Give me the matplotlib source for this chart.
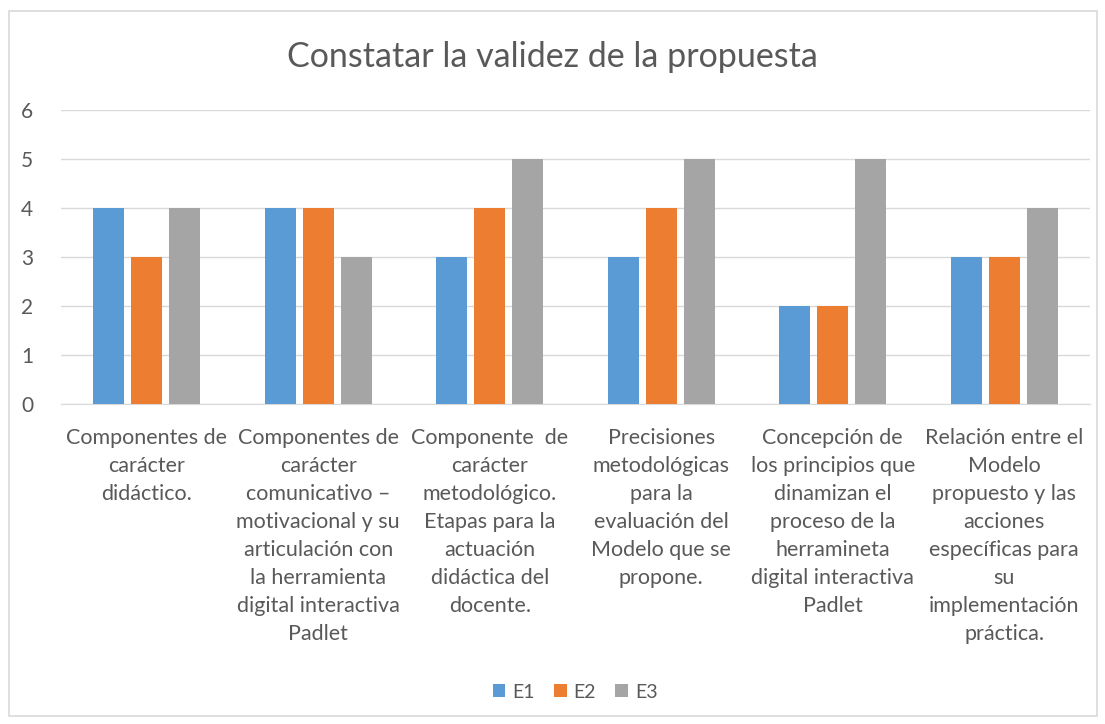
import matplotlib
matplotlib.use("Agg")
import matplotlib.pyplot as plt
import numpy as np
from matplotlib.patches import Rectangle

categories = [
    "Componentes de\ncarácter\ndidáctico.",
    "Componentes de\ncarácter\ncomunicativo –\nmotivacional y su\narticulación con\nla herramienta\ndigital interactiva\nPadlet",
    "Componente  de\ncarácter\nmetodológico.\nEtapas para la\nactuación\ndidáctica del\ndocente.",
    "Precisiones\nmetodológicas\npara la\nevaluación del\nModelo que se\npropone.",
    "Concepción de\nlos principios que\ndinamizan el\nproceso de la\nherramineta\ndigital interactiva\nPadlet",
    "Relación entre el\nModelo\npropuesto y las\nacciones\nespecíficas para\nsu\nimplementación\npráctica.",
]
series_names = ["E1", "E2", "E3"]
e1 = [4, 4, 3, 3, 2, 3]
e2 = [3, 4, 4, 4, 2, 3]
e3 = [4, 3, 5, 5, 5, 4]
colors = ["#5B9BD5", "#ED7D31", "#A5A5A5"]
text_color = "#595959"

plt.rcParams['font.family'] = ['Lato', 'DejaVu Sans']

fig = plt.figure(figsize=(11.05, 7.24), dpi=100)
fig.patches.append(Rectangle((9/1105, 1-716/724), (1097-9)/1105, (716-11)/724,
                             transform=fig.transFigure, fill=False,
                             edgecolor="#D9D9D9", linewidth=1.2))
ax = fig.add_axes([61/1105, 1-404/724, (1090-61)/1105, (404-110)/724])

x = np.arange(len(categories))
w = 0.18
off = 0.222
for i, (vals, name) in enumerate(zip([e1, e2, e3], series_names)):
    ax.bar(x + (i-1)*off, vals, width=w, color=colors[i], label=name, zorder=3)

ax.set_xlim(-0.5, len(categories)-0.5)
ax.set_ylim(0, 6)
ax.set_yticks(range(0, 7))
ax.yaxis.grid(True, color="#D9D9D9", linewidth=1, zorder=0)
ax.set_axisbelow(True)
for s in ["top", "right", "left"]:
    ax.spines[s].set_visible(False)
ax.spines["bottom"].set_color("#D9D9D9")
ax.tick_params(axis="both", length=0, colors=text_color)
ax.tick_params(axis="y", pad=20, labelsize=15)
ax.tick_params(axis="x", pad=17, labelsize=15.5)
ax.set_xticks(x)
ax.set_xticklabels(categories, linespacing=1.5, va="top", ha="center")

fig.text(0.5, 1-57/724, "Constatar la validez de la propuesta", ha="center", va="center",
         fontsize=24.5, color=text_color)

leg = fig.legend(loc="center", bbox_to_anchor=(575/1105, 1-692/724), ncol=3, frameon=False,
                 fontsize=14, handlelength=0.65, handleheight=0.65, columnspacing=1.0,
                 handletextpad=0.35)
for t in leg.get_texts():
    t.set_color(text_color)

fig.savefig("out.png", dpi=100)
